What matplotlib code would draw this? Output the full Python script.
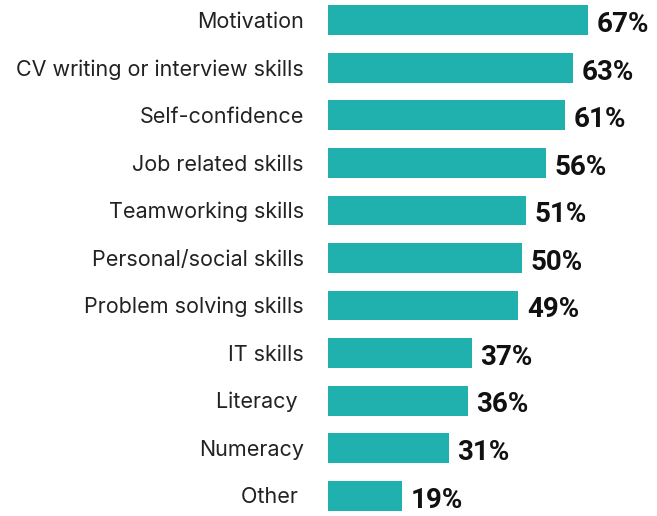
import matplotlib
matplotlib.use("Agg")
import matplotlib.pyplot as plt

categories = [
    "Motivation",
    "CV writing or interview skills",
    "Self-confidence",
    "Job related skills",
    "Teamworking skills",
    "Personal/social skills",
    "Problem solving skills",
    "IT skills",
    "Literacy ",
    "Numeracy",
    "Other ",
]
values = [67, 63, 61, 56, 51, 50, 49, 37, 36, 31, 19]

BAR_COLOR = "#20B1AE"
TEXT_COLOR = "#222222"

LABEL_SIZE = 15.5
VALUE_SIZE = 20

fig = plt.figure(figsize=(6.57, 5.16), dpi=100)
ax = fig.add_axes([328 / 657, 0, 311 / 657, 1])

pos = list(range(len(categories)))
ax.barh(pos, values, height=0.63, color=BAR_COLOR)
ax.set_xlim(0, 80)
ax.set_ylim(len(categories) - 1 + 0.43, -0.43)

for y, v in zip(pos, values):
    # baseline placed so the capitals sit centred on the bar
    ax.annotate(f"{v}%", xy=(v, y), xytext=(6, -0.711 * VALUE_SIZE / 2 - 1.5),
                textcoords="offset points", ha="left", va="baseline",
                fontsize=VALUE_SIZE, fontweight="bold", family="Roboto",
                color="#111111")
    ax.annotate(categories[y], xy=(0, y), xytext=(-17.5, -0.727 * LABEL_SIZE / 2),
                textcoords="offset points", ha="right", va="baseline",
                fontsize=LABEL_SIZE, family="Inter", color=TEXT_COLOR,
                annotation_clip=False)

ax.set_xticks([])
ax.set_yticks([])
for s in ax.spines.values():
    s.set_visible(False)

fig.savefig("out.png", dpi=100)
